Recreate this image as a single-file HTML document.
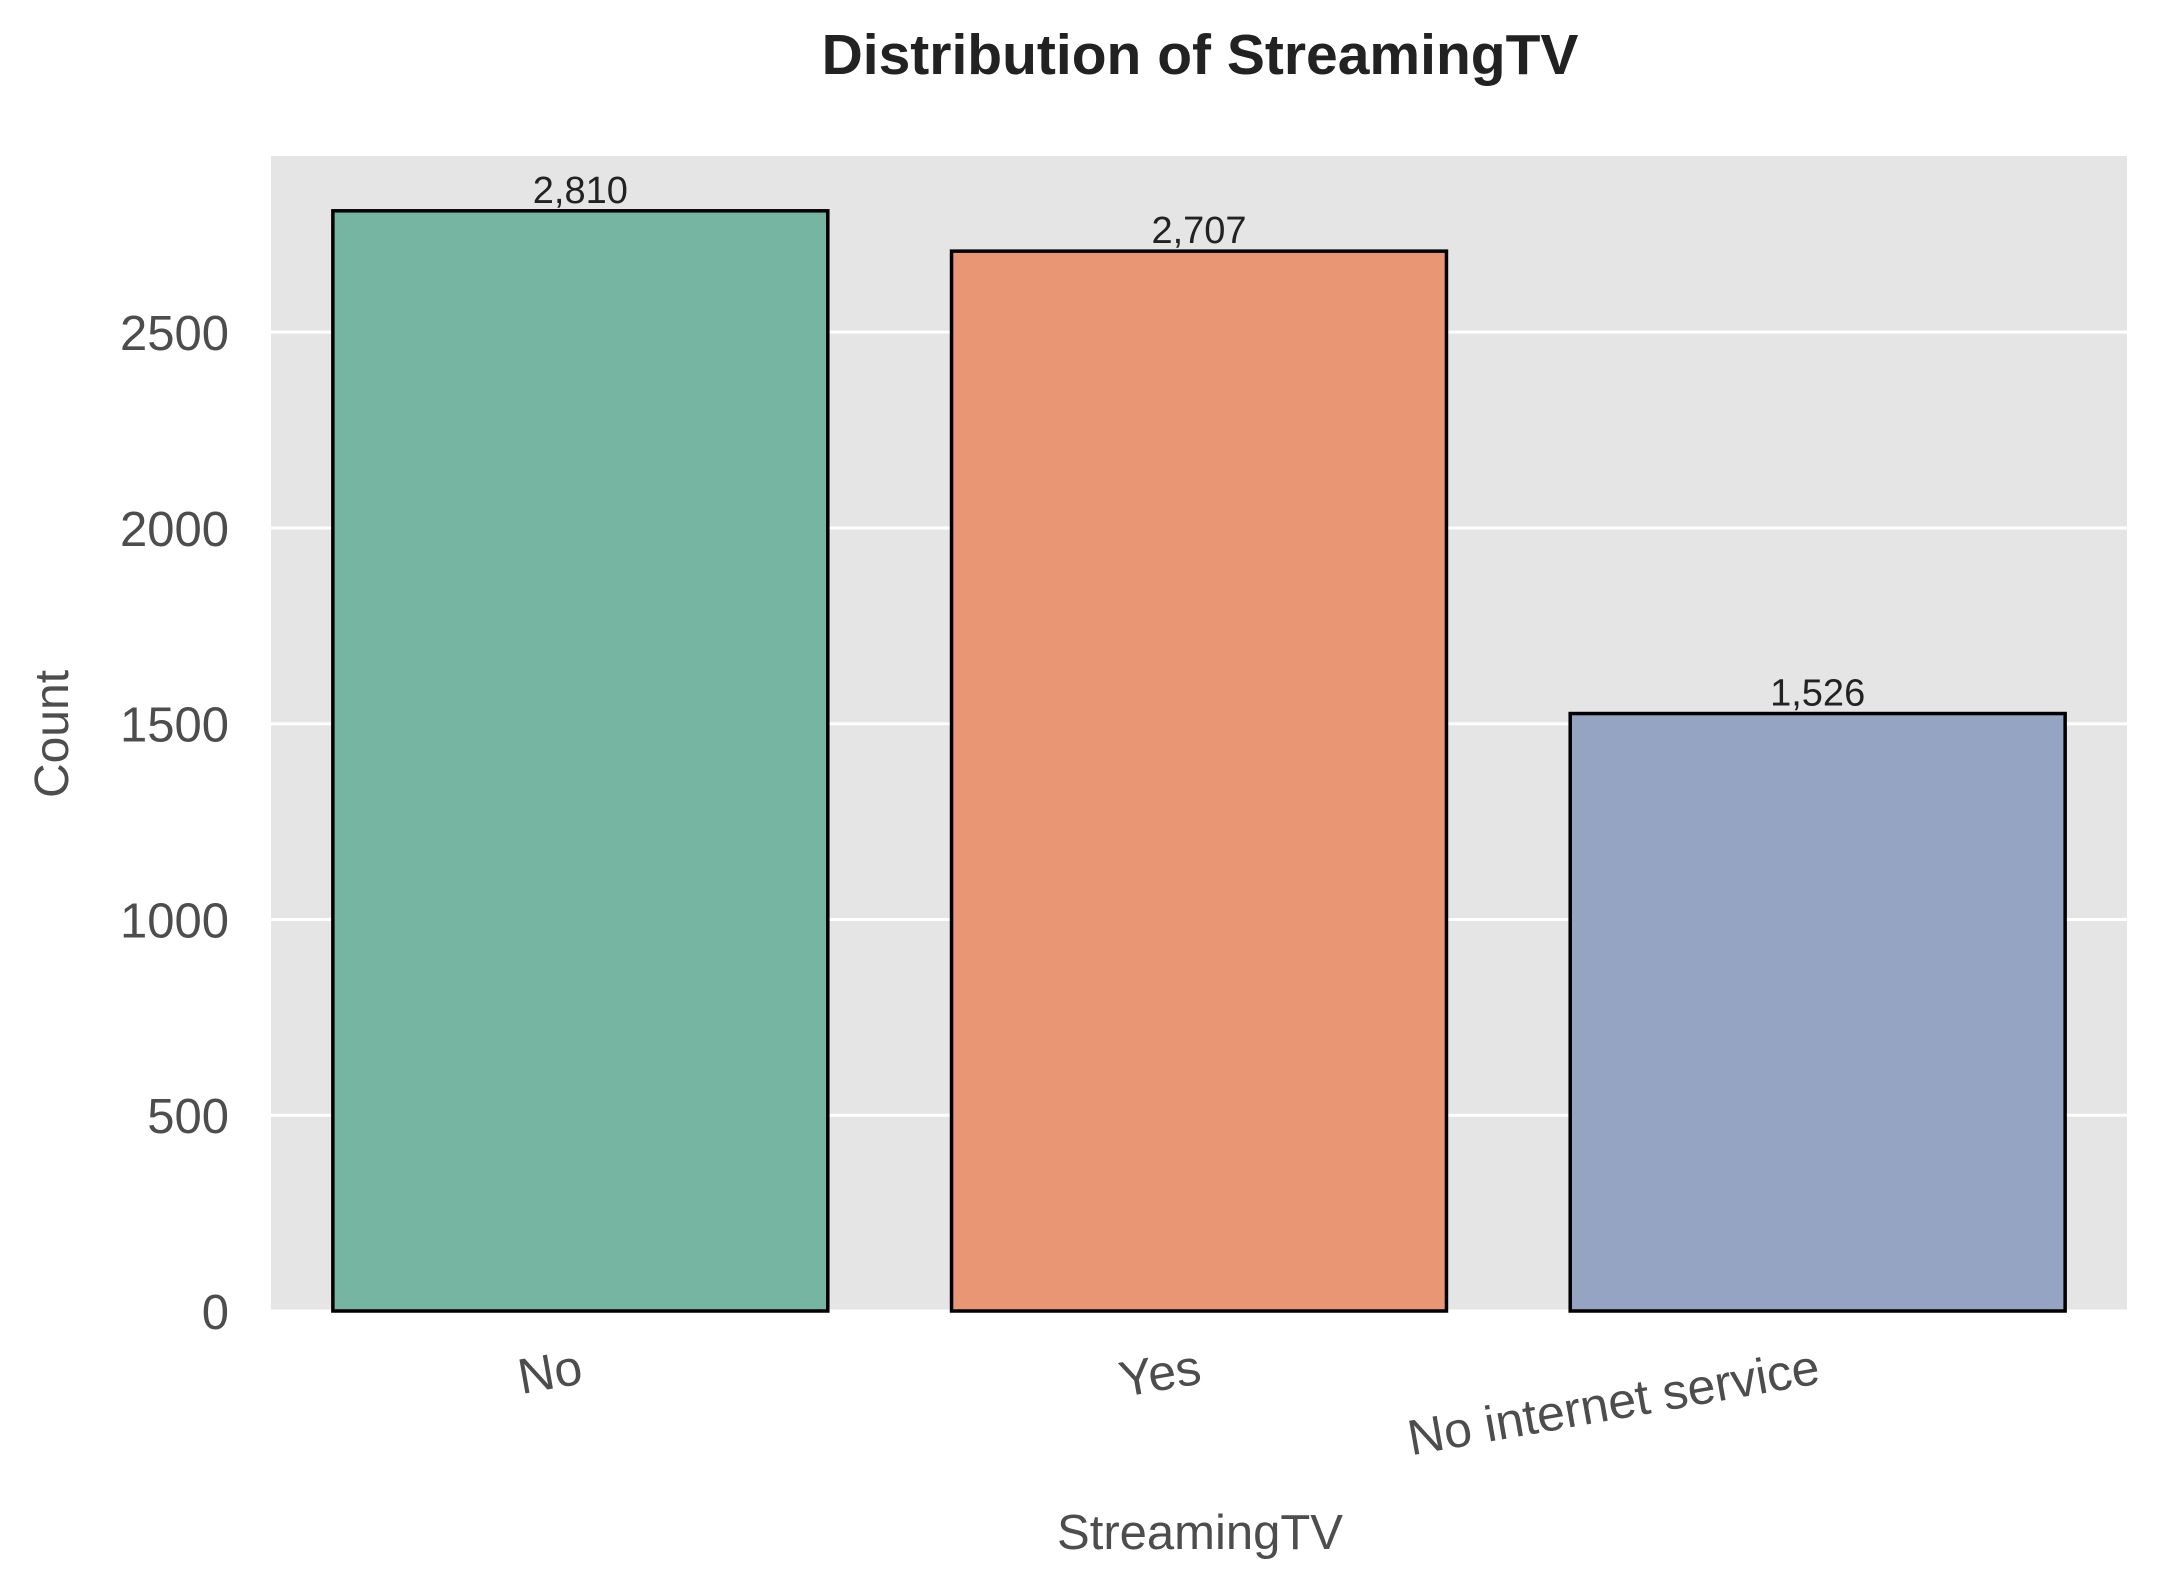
<!DOCTYPE html>
<html><head><meta charset="utf-8"><style>
body{margin:0;background:#fff}
svg{display:block;font-family:"Liberation Sans",Arial,sans-serif}
</style></head><body>
<svg id="chart" width="2159" height="1587">
<text x="1200" y="74" text-anchor="middle" font-size="57" font-weight="bold" fill="#222">Distribution of StreamingTV</text>
<rect x="271" y="156" width="1856" height="1155" fill="#e5e5e5"/>
<g id="grid"></g><g id="bars"></g><g id="labels"></g>
<text x="1200" y="1549" text-anchor="middle" font-size="49" fill="#4d4d4d">StreamingTV</text>
<text transform="translate(68,734) rotate(-90)" text-anchor="middle" font-size="48" fill="#4d4d4d">Count</text>
</svg>
<script>
const categories=["No","Yes","No internet service"];
const counts=[2810,2707,1526];
const valueLabels=["2,810","2,707","1,526"];
const yTicks=[0,500,1000,1500,2000,2500];
const colors=["#76b5a2","#e99675","#95a4c2"];
const L=271,R=2127,T=156,B=1311,yMax=2950;
const NS="http://www.w3.org/2000/svg";
const y=v=>B-v*(B-T)/yMax;
const band=(R-L)/categories.length;
const xc=i=>L+band*(i+0.5);
function mk(tag,attrs,parent){const e=document.createElementNS(NS,tag);for(const k in attrs)e.setAttribute(k,attrs[k]);parent.appendChild(e);return e;}
const grid=document.getElementById('grid'),bars=document.getElementById('bars'),labels=document.getElementById('labels');
yTicks.forEach(t=>{
  const l=mk('line',{x1:L,x2:R,y1:y(t),y2:y(t),stroke:'#fff','stroke-width':3},grid);
  
  
  const tx=mk('text',{x:L-42,y:y(t)+18,'text-anchor':'end','font-size':49,fill:'#4d4d4d'},labels);
  tx.textContent=t;
  
  
});
categories.forEach((c,i)=>{
  const w=band*0.8,x=xc(i)-w/2;
  const r=mk('rect',{x:x,y:y(counts[i]),width:w,height:B-y(counts[i]),fill:colors[i],stroke:'#000','stroke-width':3.5},bars);
  
  
  const v=mk('text',{x:xc(i),y:y(counts[i])-8,'text-anchor':'middle','font-size':38,fill:'#222'},labels);
  v.textContent=valueLabels[i];
  
  
  const xl=mk('text',{transform:'translate('+(xc(i)+4)+','+(B+72)+') rotate(-10)','text-anchor':'end','font-size':50,fill:'#4d4d4d'},labels);
  xl.textContent=c;
  
  
});
</script>
</body></html>
